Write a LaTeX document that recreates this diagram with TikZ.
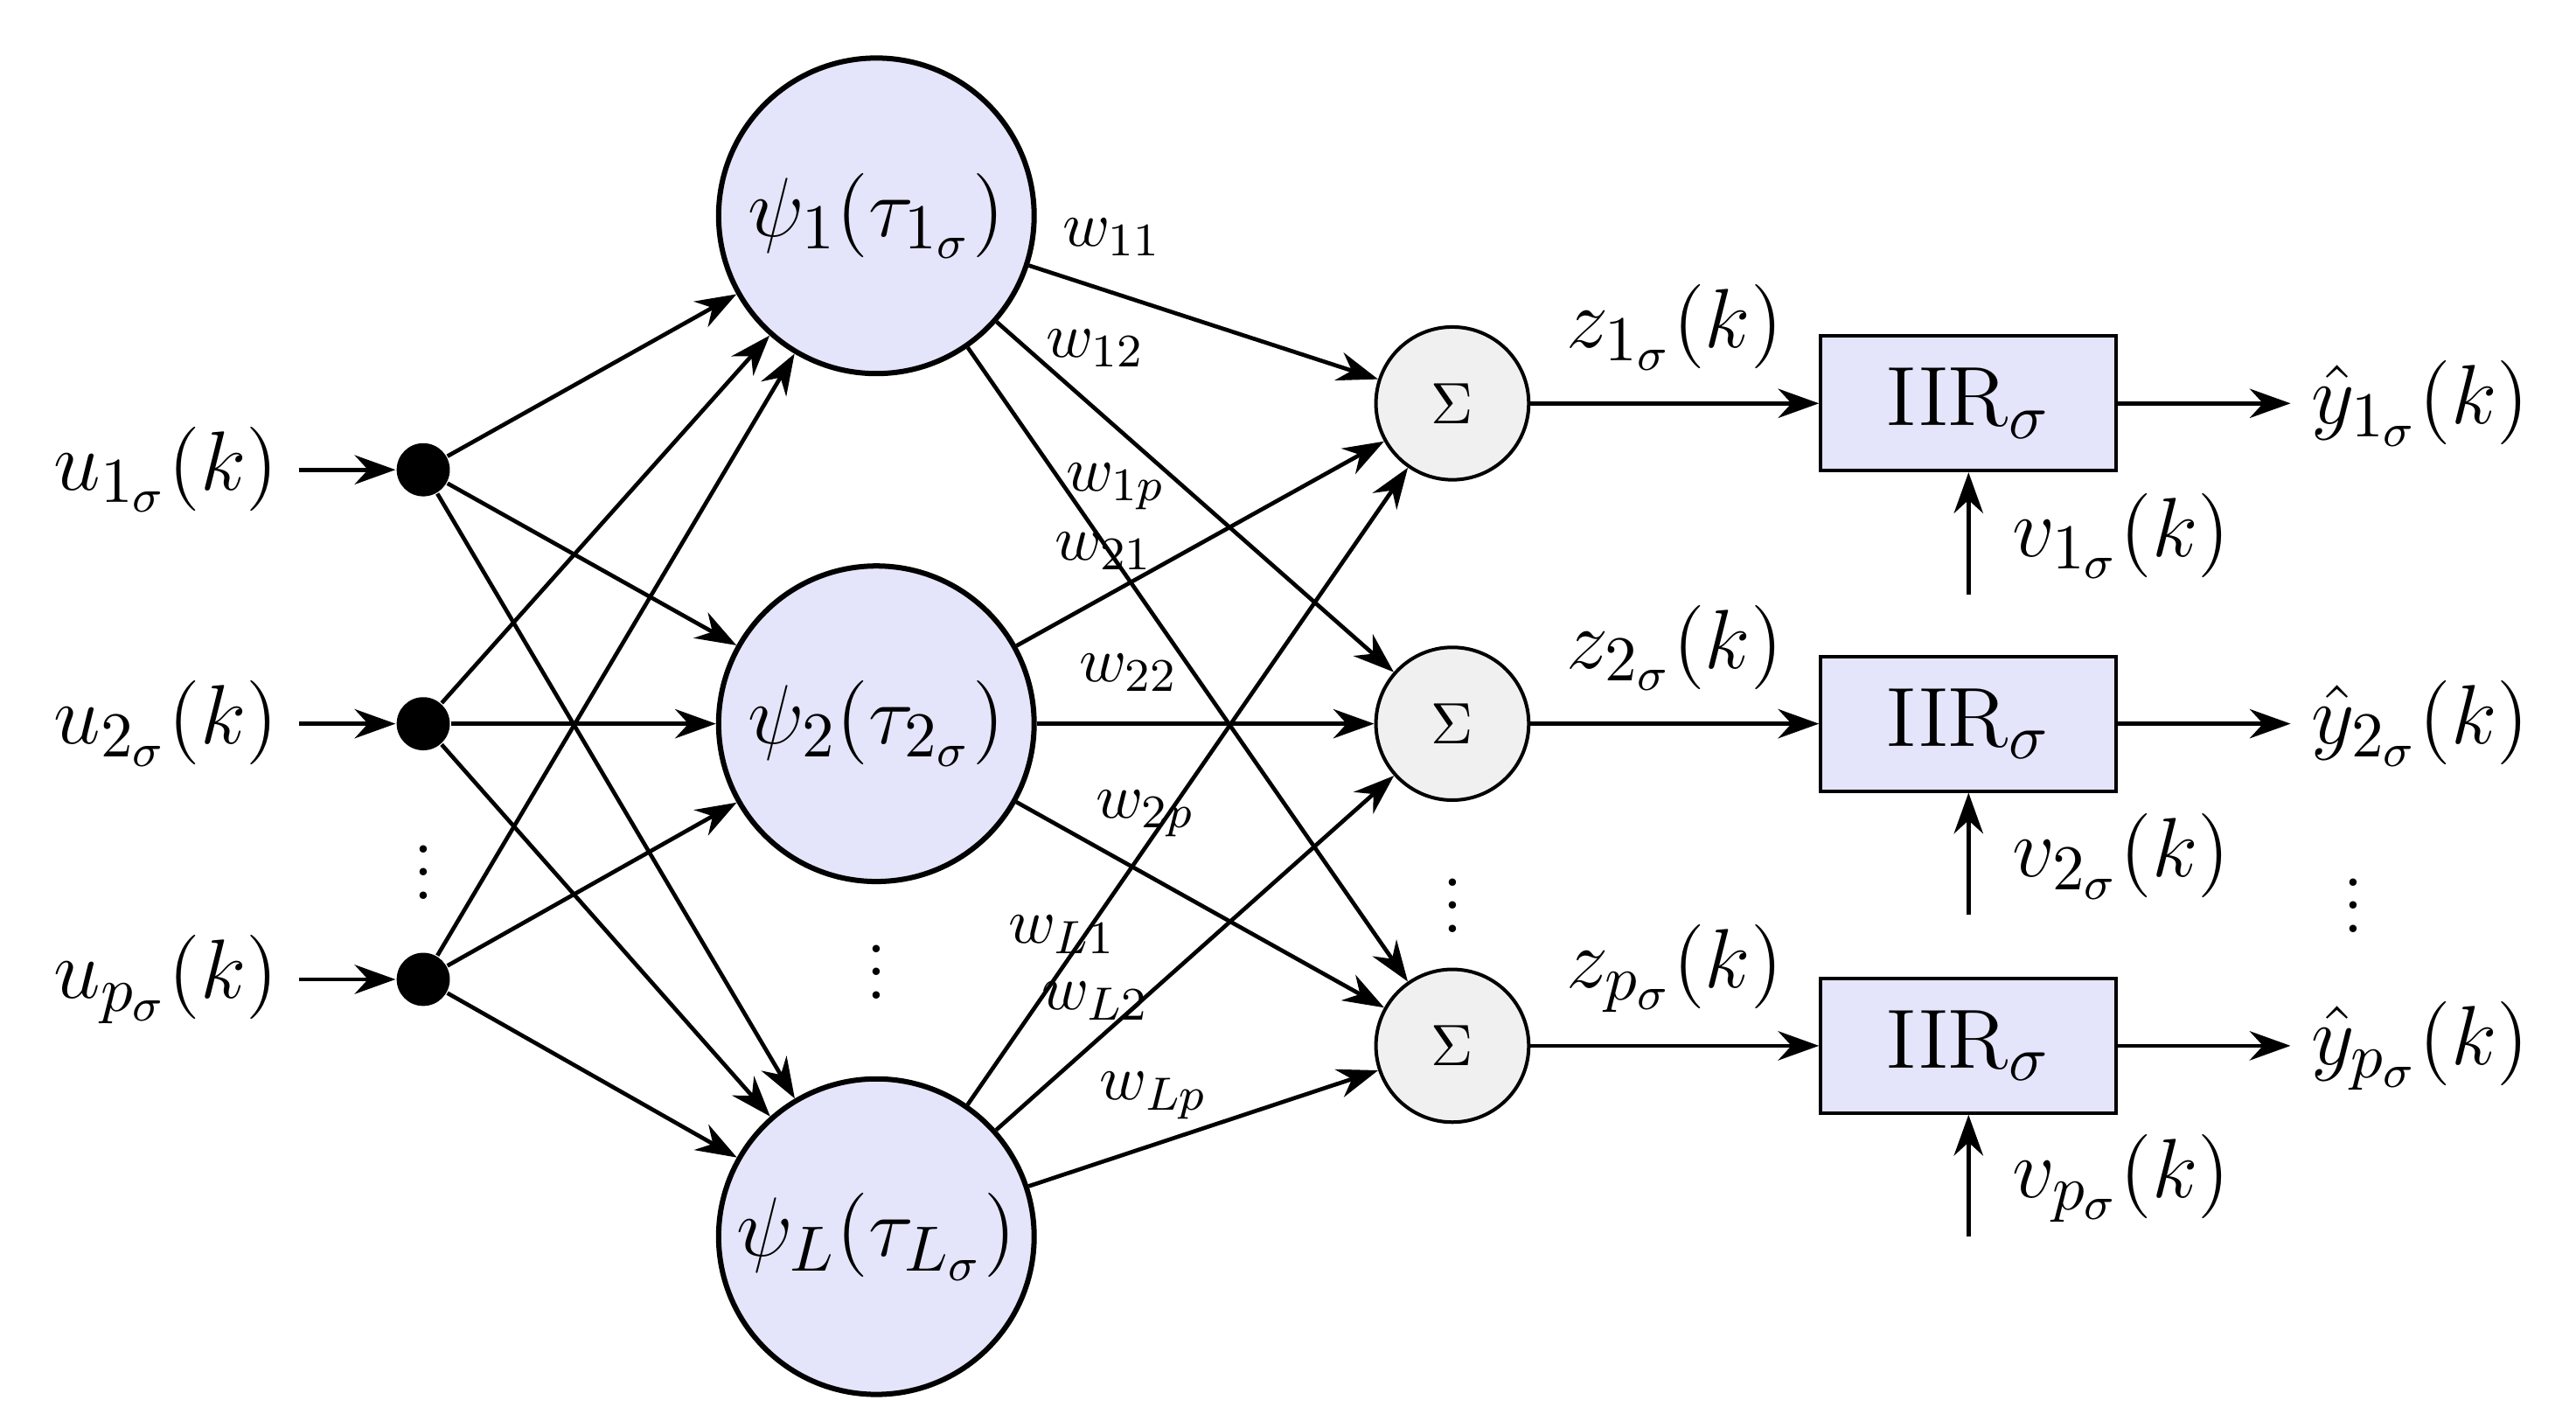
\documentclass[tikz,border=0pt]{standalone}
\usetikzlibrary{arrows.meta}
\definecolor{nb}{RGB}{228,228,250}
\definecolor{sg}{RGB}{240,240,240}
\begin{document}
\begin{tikzpicture}[x=0.01cm,y=-0.01cm,
  every node/.style={font=\fontsize{15.5}{18}\selectfont},
  psi/.style={circle,draw,line width=0.9pt,fill=nb,minimum size=1.9cm,inner sep=0},
  sig/.style={circle,draw,line width=0.6pt,fill=sg,minimum size=0.92cm,inner sep=0,font=\normalsize},
  iir/.style={draw,line width=0.6pt,fill=nb,minimum width=1.78cm,minimum height=0.81cm,inner sep=0},
  dot/.style={circle,fill=black,minimum size=0.32cm,inner sep=0},
  vd/.style={inner sep=0},
  wl/.style={font=\fontsize{11}{13}\selectfont,inner sep=0},
  arr/.style={-{Stealth[length=7pt,width=5pt]},line width=0.7pt}]
\useasboundingbox (0,0) rectangle (1552,860);
% inputs
\foreach \i/\y/\s in {1/283/1,2/436/2,p/590/p}{
  \node (u\i) at (100,\y) {$u_{\s_\sigma}(k)$};
  \node[dot] (d\i) at (255,\y) {};
  \draw[arr] (u\i.east) -- (d\i);
}
\node[vd] at (255,515) {$\vdots$};
% psi
\node[psi] (p1) at (528,130) {$\psi_1(\tau_{1_\sigma})$};
\node[psi] (p2) at (528,436) {$\psi_2(\tau_{2_\sigma})$};
\node[psi] (pL) at (528,745) {$\psi_L(\tau_{L_\sigma})$};
\node[vd] at (528,575) {$\vdots$};
\foreach \a in {1,2,p}{\foreach \b in {1,2,L}{\draw[arr] (d\a) -- (p\b);}}
% sigma
\node[sig] (s1) at (875,243) {$\Sigma$};
\node[sig] (s2) at (875,436) {$\Sigma$};
\node[sig] (sp) at (875,630) {$\Sigma$};
\node[vd] at (875,535) {$\vdots$};
\foreach \a in {1,2,L}{\foreach \b in {1,2,p}{\draw[arr] (p\a) -- (s\b);}}
\node[wl] at (670,143) {$w_{11}$};
\node[wl] at (660,210) {$w_{12}$};
\node[wl] at (672,293) {$w_{1p}$};
\node[wl] at (665,332) {$w_{21}$};
\node[wl] at (680,405) {$w_{22}$};
\node[wl] at (690,490) {$w_{2p}$};
\node[wl] at (640,563) {$w_{L1}$};
\node[wl] at (660,603) {$w_{L2}$};
\node[wl] at (695,660) {$w_{Lp}$};
% IIR
\foreach \i/\y in {1/243,2/436,p/630}{
  \node[iir] (b\i) at (1186,\y) {$\mathrm{IIR}_\sigma$};
  \draw[arr] (s\i) -- node[above=2pt] {$z_{\i_\sigma}(k)$} (b\i);
  \node (y\i) at (1458,\y) {$\hat y_{\i_\sigma}(k)$};
  \draw[arr] (b\i) -- (y\i.west);
  \coordinate (v\i) at (1186,\y+115);
  \draw[arr] (v\i) -- (b\i.south);
  \node at (1278,\y+80) {$v_{\i_\sigma}(k)$};
}
\node[vd] at (1418,535) {$\vdots$};
\end{tikzpicture}
\end{document}
